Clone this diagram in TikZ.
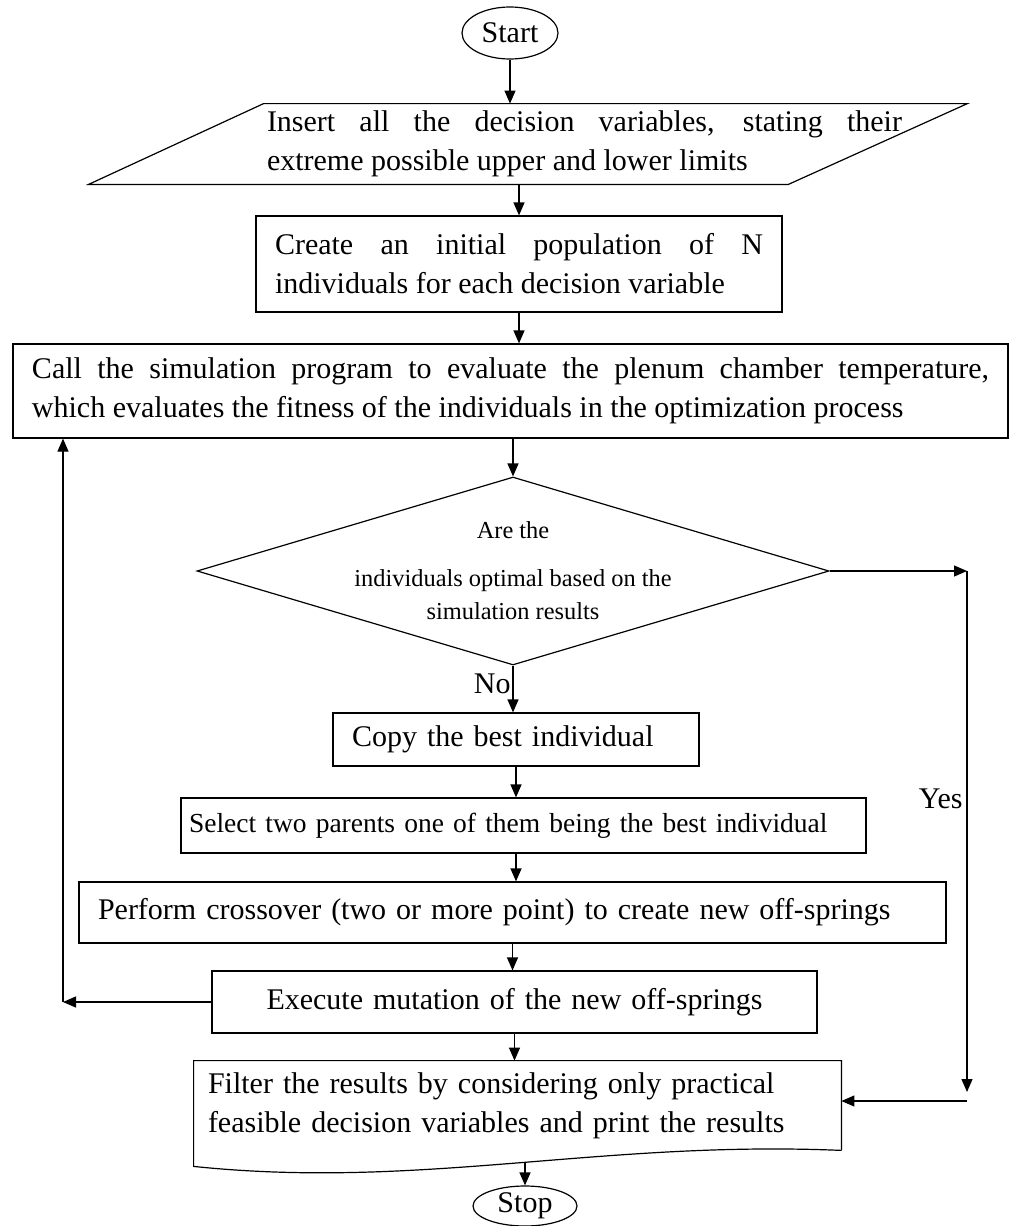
\documentclass[tikz,border=0pt]{standalone}
\usepackage{fontspec}
\setmainfont{Liberation Serif}
\usetikzlibrary{shapes.geometric,arrows.meta}
\newcommand{\fsmain}{\fontsize{15}{19.5}\selectfont}
\newcommand{\fsdec}{\fontsize{12.2}{16.5}\selectfont}
\newcommand{\fssel}{\fontsize{13.75}{18}\selectfont}

\begin{document}
\begin{tikzpicture}[x=0.5pt, y=-0.5pt, font=\fsmain,
  line/.style={line width=0.6pt},
  arr/.style={line width=0.6pt, -{Triangle[length=6.5pt,width=5.5pt]}},
  term/.style={draw, line width=0.6pt, ellipse, inner sep=0pt},
  box/.style={draw, line width=0.6pt, inner xsep=9.5pt, inner ysep=0pt},
  lbl/.style={inner sep=0pt}]
  \useasboundingbox (0,0) rectangle (1010,1226);
  \node[term, minimum width=48pt, minimum height=26pt] (start) at (510,33) {Start};
  \node[inner sep=0pt, minimum height=40pt, text width=317.5pt, align=justify] (insert) at (584.5,144)
    {Insert all the decision variables, stating their\linebreak extreme possible upper and lower limits};
  \draw[line] ([xshift=-1.5pt]insert.north west) -- ([xshift=32.5pt]insert.north east)
    -- ([xshift=-57pt]insert.south east) -- ([xshift=-89pt]insert.south west) -- cycle;
  \node[box, minimum width=263pt, minimum height=48pt, text width=244pt, align=justify] (create) at (519,264)
    {Create an initial population of N\linebreak individuals for each decision variable};
  \node[box, minimum width=497.5pt, minimum height=47pt, text width=478.5pt, align=justify] (call) at (510.5,391)
    {Call the simulation program to evaluate the plenum chamber temperature,\linebreak which evaluates the fitness of the individuals in the optimization process};
  \node[draw, line width=0.6pt, diamond, shape aspect=3.36, inner sep=-2pt, minimum width=316pt, minimum height=94pt,
    align=center, font=\fsdec] (dec) at (513,571)
    {Are the\\[7.5pt]individuals optimal based on the\\simulation results};
  \node[lbl, anchor=base east] (yes) at (963,808) {Yes};
  \node[lbl, anchor=base east] (no) at (511,693) {No};
  \node[box, minimum width=183pt, minimum height=26.5pt, text width=164pt, align=left] (copy) at (516,739.5)
    {Copy the best individual};
  \node[box, inner xsep=4pt, minimum width=342.5pt, minimum height=27.5pt, text width=334.5pt, align=left,
    font=\fssel] (select) at (523.5,825.5)
    {Select two parents one of them being the best individual};
  \node[box, minimum width=433.5pt, minimum height=30.5pt, text width=414.5pt, align=left] (perform) at (512.5,912.5)
    {Perform crossover (two or more point) to create new off-springs};
  \node[box, minimum width=302.5pt, minimum height=31pt, text width=283.5pt, align=center] (exec) at (514.5,1002)
    {Execute mutation of the new off-springs};
  \node[inner xsep=7pt, inner ysep=0pt, minimum width=323.5pt, minimum height=44.5pt, text width=309.5pt,
    align=left] (filter) at (517.5,1105.5)
    {Filter the results by considering only practical\\feasible decision variables and print the results};
  \draw[line] (filter.south east) -- (filter.north east) -- (filter.north west) -- ([yshift=-8pt]filter.south west)
    .. controls (420,1190) and (600,1140) .. (filter.south east);
  \node[term, minimum width=52pt, minimum height=20pt] (stop) at (525,1206) {Stop};
  \coordinate (yes1) at (967,571);
  \coordinate (yes2) at (967,1101);
  \coordinate (loop) at (63,1002);
  \draw[arr] (start) -- (start |- insert.north);
  \draw[arr] (create.north |- insert.south) -- (create.north);
  \draw[arr] (create.south) -- (create.south |- call.north);
  \draw[arr] (call.south -| dec.north) -- (dec.north);
  \draw[arr] (dec.east) -- (yes1);
  \draw[arr] (yes1) -- ([yshift=4.5pt]yes2);
  \draw[arr] (yes2) -- (yes2 -| filter.east);
  \draw[arr] (dec.south) -- (dec.south |- copy.north);
  \draw[arr] (copy.south) -- (copy.south |- select.north);
  \draw[arr] (copy.south |- select.south) -- (copy.south |- perform.north);
  \draw[arr] (perform.south) -- (perform.south |- exec.north);
  \draw[arr] (exec.south) -- (exec.south |- filter.north);
  \draw[arr] (exec.west) -- (loop);
  \draw[arr] (loop) -- (loop |- call.south);
  \draw[arr] ([yshift=-6pt]filter.south -| stop.north) -- (stop.north);
\end{tikzpicture}
\end{document}
